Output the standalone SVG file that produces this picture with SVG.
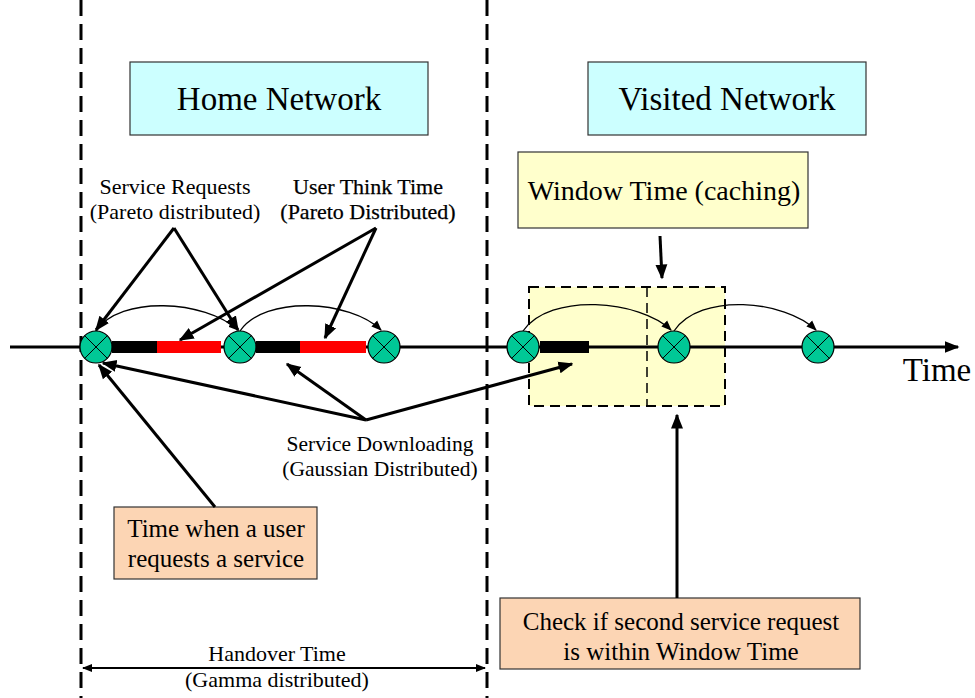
<svg xmlns="http://www.w3.org/2000/svg" width="975" height="698" viewBox="0 0 975 698">
<defs>
<marker id="ah" viewBox="0 0 10 10" refX="9" refY="5" markerWidth="5" markerHeight="5" orient="auto-start-reverse" markerUnits="strokeWidth"><path d="M0,1 L10,5 L0,9 z" fill="#000"/></marker>
<marker id="ahs" viewBox="0 0 10 10" refX="9" refY="5" markerWidth="8" markerHeight="8" orient="auto-start-reverse" markerUnits="strokeWidth"><path d="M0,1 L10,5 L0,9 z" fill="#000"/></marker>
</defs>
<style>
text{font-family:'Liberation Serif','DejaVu Serif','Times New Roman',serif;fill:#000}
.big{font-size:33px}
.mid{font-size:25px}
.sm{font-size:22px}
.box{stroke:#333;stroke-width:1.2}
.dash{stroke:#000;stroke-width:3;stroke-dasharray:16,8;fill:none}
.ln{stroke:#000;stroke-width:3;fill:none}
.arc{stroke:#000;stroke-width:1.3;fill:none}
.node circle{fill:#00C896;stroke:#000;stroke-width:1.2}
.node path{stroke:#000;stroke-width:1}
</style>
<rect width="975" height="698" fill="#fff"/>

<g id="window-region">
<rect x="529" y="287" width="196" height="119" fill="#FFFFCC"/>
<rect x="529" y="287" width="196" height="119" fill="none" stroke="#000" stroke-width="2" stroke-dasharray="10,6"/>
<line x1="647" y1="287" x2="647" y2="406" stroke="#000" stroke-width="1.5" stroke-dasharray="10,6"/>
</g>

<g id="boundaries">
<line x1="81" y1="0" x2="81" y2="698" class="dash"/>
<line x1="487" y1="0" x2="487" y2="698" class="dash"/>
</g>

<g id="home-network"><rect x="130" y="62" width="298" height="73" fill="#CCFFFF" class="box"/><text x="279" y="110" text-anchor="middle" class="big">Home Network</text></g>
<g id="visited-network"><rect x="588" y="62" width="278" height="73" fill="#CCFFFF" class="box"/><text x="727" y="110" text-anchor="middle" class="big">Visited Network</text></g>
<g id="window-time"><rect x="518" y="152" width="290" height="76" fill="#FFFFCC" class="box"/><text x="664" y="200" text-anchor="middle" style="font-size:28px">Window Time (caching)</text></g>
<g id="request-time"><rect x="114" y="507" width="203" height="72" fill="#FCD5B4" class="box"/><text x="216" y="537" text-anchor="middle" class="mid">Time when a user</text><text x="216" y="567" text-anchor="middle" class="mid">requests a service</text></g>
<g id="check-box"><rect x="500" y="598" width="360" height="71" fill="#FCD5B4" class="box"/><text x="681" y="630" text-anchor="middle" class="mid">Check if second service request</text><text x="681" y="660" text-anchor="middle" class="mid">is within Window Time</text></g>

<g id="labels">
<text x="175" y="194" text-anchor="middle" class="sm">Service Requests</text>
<text x="175" y="219" text-anchor="middle" class="sm">(Pareto distributed)</text>
<text x="368" y="194" text-anchor="middle" class="sm" style="stroke:#000;stroke-width:0.25">User Think Time</text>
<text x="368" y="219" text-anchor="middle" class="sm" style="stroke:#000;stroke-width:0.25">(Pareto Distributed)</text>
<text x="380" y="451" text-anchor="middle" class="sm" style="font-size:21.5px">Service Downloading</text>
<text x="380" y="476" text-anchor="middle" class="sm" style="font-size:21.5px">(Gaussian Distributed)</text>
<text x="277" y="661" text-anchor="middle" class="sm">Handover Time</text>
<text x="277" y="687" text-anchor="middle" class="sm">(Gamma distributed)</text>
<text x="937" y="381" text-anchor="middle" style="font-size:33px">Time</text>
</g>

<g id="connectors">
<line x1="10" y1="347" x2="958" y2="347" class="ln" marker-end="url(#ah)"/>
<rect x="112" y="341" width="45" height="12" fill="#000"/>
<rect x="157" y="341" width="64" height="12" fill="#FF0000"/>
<rect x="256" y="341" width="44" height="12" fill="#000"/>
<rect x="300" y="341" width="66" height="12" fill="#FF0000"/>
<rect x="540" y="341" width="49" height="12" fill="#000"/>
<path d="M96,331 C120,295 205,300 238,330" class="arc" marker-end="url(#ahs)"/>
<path d="M240,331 C265,295 350,300 381,330" class="arc" marker-end="url(#ahs)"/>
<path d="M523,331 C550,292 640,300 671,330" class="arc" marker-end="url(#ahs)"/>
<path d="M674,331 C700,292 785,300 816,330" class="arc" marker-end="url(#ahs)"/>
<line x1="174" y1="228" x2="96" y2="330" class="ln" marker-end="url(#ah)"/>
<line x1="174" y1="228" x2="238" y2="330" class="ln" marker-end="url(#ah)"/>
<line x1="376" y1="228" x2="180" y2="340" class="ln" marker-end="url(#ah)"/>
<line x1="376" y1="228" x2="325" y2="338" class="ln" marker-end="url(#ah)"/>
<line x1="366" y1="420" x2="103" y2="363" class="ln" marker-end="url(#ah)"/>
<line x1="366" y1="420" x2="287" y2="364" class="ln" marker-end="url(#ah)"/>
<line x1="366" y1="420" x2="572" y2="364" class="ln" marker-end="url(#ah)"/>
<line x1="215" y1="507" x2="99" y2="365" class="ln" marker-end="url(#ah)"/>
<line x1="660" y1="236" x2="662" y2="278" class="ln" marker-end="url(#ah)"/>
<line x1="677" y1="598" x2="677" y2="415" class="ln" marker-end="url(#ah)"/>
<line x1="83" y1="668" x2="485" y2="668" stroke="#000" stroke-width="2" marker-start="url(#ah)" marker-end="url(#ah)"/>
</g>

<g id="n1" class="node"><circle cx="96" cy="347" r="16"/><path d="M84.7,335.7 L107.3,358.3 M107.3,335.7 L84.7,358.3"/></g>
<g id="n2" class="node"><circle cx="240" cy="347" r="16"/><path d="M228.7,335.7 L251.3,358.3 M251.3,335.7 L228.7,358.3"/></g>
<g id="n3" class="node"><circle cx="384" cy="347" r="16"/><path d="M372.7,335.7 L395.3,358.3 M395.3,335.7 L372.7,358.3"/></g>
<g id="n4" class="node"><circle cx="523" cy="347" r="16"/><path d="M511.7,335.7 L534.3,358.3 M534.3,335.7 L511.7,358.3"/></g>
<g id="n5" class="node"><circle cx="674" cy="347" r="16"/><path d="M662.7,335.7 L685.3,358.3 M685.3,335.7 L662.7,358.3"/></g>
<g id="n6" class="node"><circle cx="818" cy="347" r="16"/><path d="M806.7,335.7 L829.3,358.3 M829.3,335.7 L806.7,358.3"/></g>
</svg>
